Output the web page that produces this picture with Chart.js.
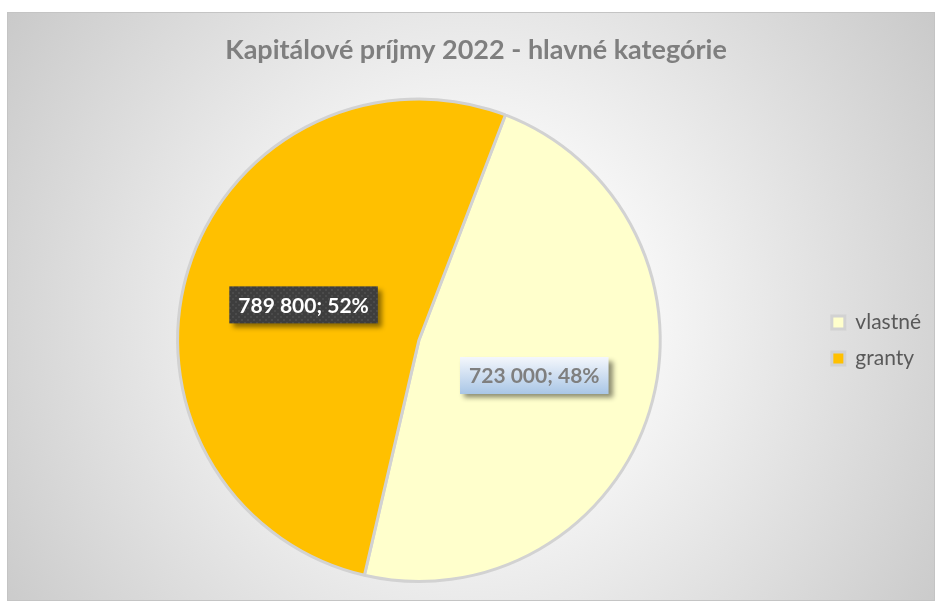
<!DOCTYPE html>
<html>
<head>
<meta charset="utf-8">
<title>Kapitálové príjmy 2022</title>
<script src="https://cdn.jsdelivr.net/npm/chart.js@4.4.1/dist/chart.umd.min.js"></script>
<style>
  body { margin: 0; background: #ffffff; }
  #wrap { width: 937px; height: 602px; }
</style>
</head>
<body>
<div id="wrap"><canvas id="pieChart" width="937" height="602"></canvas></div>
<script>
// data
var categories = ["vlastné", "granty"];
var values = [723000, 789800];
var sliceColors = ["#FFFFCC", "#FFC000"];
var chartTitle = "Kapitálové príjmy 2022 - hlavné kategórie";

function formatNum(n) {
  return String(n).replace(/\B(?=(\d{3})+(?!\d))/g, " ");
}

//frame with the grey radial background
var framePlugin = {
  id: "frame",
  beforeDraw: function (chart) {
    var ctx = chart.ctx;
    var x0 = 7, y0 = 12, x1 = 935, y1 = 601;
    ctx.save();
    var g = ctx.createRadialGradient(470, 320, 0, 470, 320, 560);
    g.addColorStop(0, "#ffffff");
    g.addColorStop(0.25, "#fbfbfb");
    g.addColorStop(1, "#c9c9c9");
    ctx.fillStyle = g;
    ctx.fillRect(x0, y0, x1 - x0, y1 - y0);
    ctx.strokeStyle = "#c4c4c4";
    ctx.lineWidth = 1;
    ctx.strokeRect(x0 + 0.5, y0 + 0.5, x1 - x0 - 1, y1 - y0 - 1);
    ctx.restore();
  }
};

// small dotted pattern for the dark label box
function darkPattern(ctx) {
  var c = document.createElement("canvas");
  c.width = 6; c.height = 6;
  var p = c.getContext("2d");
  p.fillStyle = "#3e3e3e";
  p.fillRect(0, 0, 6, 6);
  p.fillStyle = "#4b4b4b";
  p.fillRect(1, 1, 2, 2);
  p.fillRect(4, 4, 2, 2);
  return ctx.createPattern(c, "repeat");
}

//value; percent labels in boxes
var labelPlugin = {
  id: "sliceLabels",
  afterDatasetsDraw: function (chart) {
    var ctx = chart.ctx;
    var meta = chart.getDatasetMeta(0);
    var total = values.reduce(function (a, b) { return a + b; }, 0);
    ctx.save();
    ctx.font = "bold 21px Lato";
    ctx.textAlign = "center";
    ctx.textBaseline = "middle";
    meta.data.forEach(function (arc, i) {
      var pos = arc.tooltipPosition();
      var txt = formatNum(values[i]) + "; " + Math.round(values[i] / total * 100) + "%";
      var w = ctx.measureText(txt).width + 18;
      var h = 37;
      var bx = pos.x - w / 2, by = pos.y - h / 2;
      ctx.save();
      ctx.shadowColor = "rgba(0,0,0,0.45)";
      ctx.shadowBlur = 5;
      ctx.shadowOffsetX = 4;
      ctx.shadowOffsetY = 4;
      if (i === 1) {
        ctx.fillStyle = darkPattern(ctx);
      } else {
        var g = ctx.createLinearGradient(0, by, 0, by + h);
        g.addColorStop(0, "#f4f7fc");
        g.addColorStop(1, "#a9c6e6");
        ctx.fillStyle = g;
      }
      ctx.fillRect(bx, by, w, h);
      ctx.restore();
      ctx.fillStyle = i === 1 ? "#ffffff" : "#7f7f7f";
      ctx.fillText(txt, pos.x, pos.y + 1);
    });
    ctx.restore();
  }
};

var ctxP = document.getElementById("pieChart").getContext("2d");
var myPieChart = new Chart(ctxP, {
  type: "pie",
  data: {
    labels: categories,
    datasets: [
      {
        data: values,
        backgroundColor: sliceColors,
        borderColor: "#d2d2d2",
        borderWidth: 3
      }
    ]
  },
  options: {
    responsive: false,
    animation: false,
    rotation: 21,
    layout: {
      padding: { top: 12, left: 21, right: 6, bottom: 19 }
    },
    plugins: {
      title: {
        display: true,
        text: chartTitle,
        color: "#7f7f7f",
        font: { family: "Lato", size: 27, weight: "bold" },
        padding: { top: 22, bottom: 31 }
      },
      legend: {
        position: "right",
        // empty legend title only pushes the items down to the pie centre
        title: {
          display: true,
          text: " ",
          font: { family: "Lato", size: 21 },
          padding: { top: 0, bottom: 61 }
        },
        labels: {
          color: "#595959",
          font: { family: "Lato", size: 21 },
          boxWidth: 13,
          boxHeight: 13,
          padding: 15
        }
      },
      tooltip: { enabled: false }
    }
  },
  plugins: [framePlugin, labelPlugin]
});
</script>
</body>
</html>
